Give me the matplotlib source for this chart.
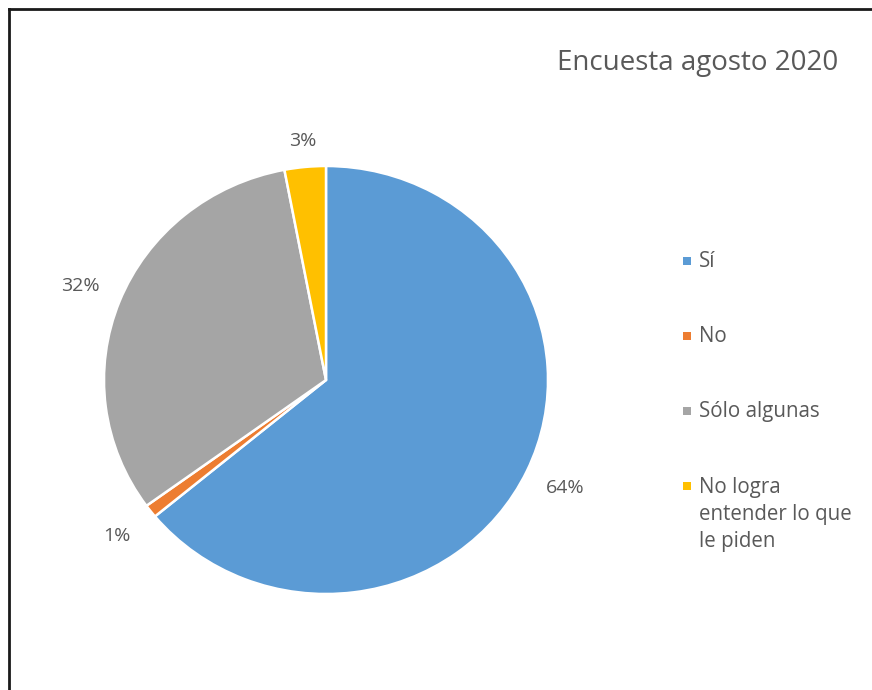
import matplotlib.pyplot as plt
from matplotlib.lines import Line2D
from matplotlib.patches import Rectangle

# Encuesta agosto 2020
categorias = ['Sí', 'No', 'Sólo algunas', 'No logra\nentender lo que\nle piden']
valores = [64, 1, 32, 3]
colores = ['#5B9BD5', '#ED7D31', '#A5A5A5', '#FFC000']
titulo = 'Encuesta agosto 2020'

plt.rcParams['font.family'] = ['Open Sans', 'DejaVu Sans']
gris = '#595959'

W, H = 872, 690
fig = plt.figure(figsize=(W / 100, H / 100), dpi=100)
ax = fig.add_axes([0, 0, 1, 1])

wedges, txts, pcts = ax.pie(valores, colors=colores, startangle=90, counterclock=False,
                            autopct='%1.0f%%', pctdistance=1.19,
                            wedgeprops=dict(edgecolor='white', linewidth=1.8),
                            textprops=dict(color=gris, fontsize=14))
# small top label sits a bit closer, as in the original
x3, y3 = pcts[3].get_position()
pcts[3].set_position((x3 * 1.12 / 1.19, y3 * 1.12 / 1.19))

# pie is slightly wider than tall in the reference
cx, cy, rx, ry = 326, 380, 222, 214
ax.set_aspect('auto')
ax.set_xlim(-cx / rx, (W - cx) / rx)
ax.set_ylim(-(H - cy) / ry, cy / ry)
ax.axis('off')

fig.text(557 / W, 1 - 70 / H, titulo, fontsize=20, color=gris, va='baseline', ha='left')

# legend, drawn by hand so the marker sits on the first line of each entry
for i, (w, lab) in enumerate(zip(wedges, categorias)):
    yc = 260.5 + 75 * i
    fig.add_artist(Rectangle((683 / W, 1 - (yc + 4) / H), 8 / W, 8 / H,
                             transform=fig.transFigure, color=w.get_facecolor(), lw=0))
    fig.text(699 / W, 1 - (yc - 9) / H, lab, fontsize=14.8, color=gris,
             va='top', ha='left', linespacing=1.38)

# frame lines (top and left only)
fig.add_artist(Line2D([9 / W, 1], [1 - 9 / H, 1 - 9 / H], color='#1a1a1a', lw=2))
fig.add_artist(Line2D([9 / W, 9 / W], [0, 1 - 9 / H], color='#1a1a1a', lw=2))

fig.savefig('out.png', dpi=100)
